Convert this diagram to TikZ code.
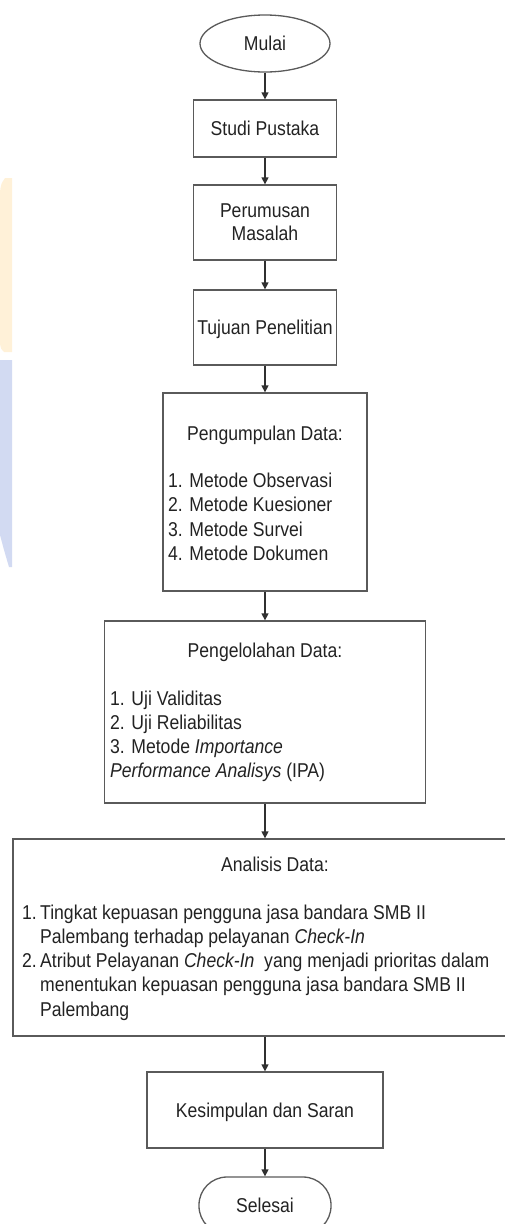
\documentclass[tikz,border=0pt]{standalone}
\usepackage{fontspec}
\setmainfont{Liberation Sans}[FakeStretch=0.88]
\usetikzlibrary{shapes.geometric,arrows.meta}
\definecolor{boxline}{HTML}{5A5A5A}
\definecolor{arrowline}{HTML}{303030}
\definecolor{txtcol}{HTML}{222222}
\definecolor{wmyellow}{HTML}{FFF1D8}
\definecolor{wmblue}{HTML}{D2DAF2}
\newcommand{\fsz}{\fontsize{20}{24.3}\selectfont}
\begin{document}
\begin{tikzpicture}[x=1pt,y=-1pt,
  every node/.style={font=\fsz, text=txtcol},
  plainbox/.style={draw=boxline, line width=1.3pt, rectangle, inner sep=0pt},
  flowbox/.style={plainbox, text height=14.5pt, text depth=0pt},
  termell/.style={draw=boxline, line width=1.3pt, ellipse, inner sep=0pt, text height=14.5pt, text depth=0pt},
  flowarrow/.style={draw=arrowline, line width=1.3pt, -{Triangle[length=7pt,width=7pt]}},
  listtxt/.style={anchor=base west, inner sep=0pt},
  titletxt/.style={anchor=base, inner sep=0pt}]
\useasboundingbox (0,0) rectangle (505,1224);
\clip (0,0) rectangle (505,1224);
% watermark fragments
\fill[wmyellow] (12,178) -- (12,352) -- (4,352) .. controls (1,349) .. (0,344) -- (0,192) .. controls (1,184) .. (5,178) -- cycle;
\fill[wmblue] (0,360) -- (12,360) -- (12,567) -- (9,567) .. controls (4,550) .. (0,535) -- cycle;
% boxes
\node[termell, minimum width=130pt, minimum height=57pt] (mulai) at (265,43.5) {Mulai};
\node[flowbox, minimum width=143pt, minimum height=57pt] (studi) at (265,128.5) {Studi Pustaka};
\node[plainbox, minimum width=143pt, minimum height=75pt, align=center] (rumus) at (265,222.5) {Perumusan\\[-1pt]Masalah};
\node[flowbox, minimum width=143pt, minimum height=75pt] (tujuan) at (265,327.5) {Tujuan Penelitian};
\node[plainbox, minimum width=204pt, minimum height=198pt] (kumpul) at (265,492) {};
\node[plainbox, minimum width=321pt, minimum height=182pt] (kelola) at (265,712) {};
\node[plainbox, minimum width=524pt, minimum height=197pt] (analisis) at (275,937.5) {};
\node[flowbox, minimum width=236pt, minimum height=76pt] (simpul) at (265,1110) {Kesimpulan dan Saran};
\node[flowbox, rounded corners=28pt, minimum width=132pt, minimum height=57pt] (selesai) at (265,1205.5) {Selesai};
% box texts
\node[titletxt] (kumpulT) at (265,440) {Pengumpulan Data:};
\node[listtxt] (k1) at (168,487.5) {1. Metode Observasi};
\node[listtxt] (k2) at (168,511.8) {2. Metode Kuesioner};
\node[listtxt] (k3) at (168,536.1) {3. Metode Survei};
\node[listtxt] (k4) at (168,560.4) {4. Metode Dokumen};
\node[titletxt] (kelolaT) at (265,657) {Pengelolahan Data:};
\node[listtxt] (l1) at (110,705) {1. Uji Validitas};
\node[listtxt] (l2) at (110,729.3) {2. Uji Reliabilitas};
\node[listtxt] (l3) at (110,753.6) {3. Metode \textit{Importance}};
\node[listtxt] (l4) at (110,777.9) {\textit{Performance Analisys} (IPA)};
\node[titletxt] (analisisT) at (275,871) {Analisis Data:};
\node[listtxt] (n1) at (22,919) {1.};
\node[listtxt] (a1) at (40,919) {Tingkat kepuasan pengguna jasa bandara SMB II};
\node[listtxt] (a1b) at (40,943.3) {Palembang terhadap pelayanan \textit{Check-In}};
\node[listtxt] (n2) at (22,967.6) {2.};
\node[listtxt] (a2) at (40,967.6) {Atribut Pelayanan \textit{Check-In}\ \ yang menjadi prioritas dalam};
\node[listtxt] (a2b) at (40,991.9) {menentukan kepuasan pengguna jasa bandara SMB II};
\node[listtxt] (a2c) at (40,1016.2) {Palembang};
% connectors
\draw[flowarrow] (mulai) -- (studi);
\draw[flowarrow] (studi) -- (rumus);
\draw[flowarrow] (rumus) -- (tujuan);
\draw[flowarrow] (tujuan) -- (kumpul);
\draw[flowarrow] (kumpul) -- (kelola);
\draw[flowarrow] (kelola.south) -- (kelola.south |- analisis.north);
\draw[flowarrow] (analisis.south -| simpul.north) -- (simpul.north);
\draw[flowarrow] (simpul) -- (selesai);
\end{tikzpicture}
\end{document}
